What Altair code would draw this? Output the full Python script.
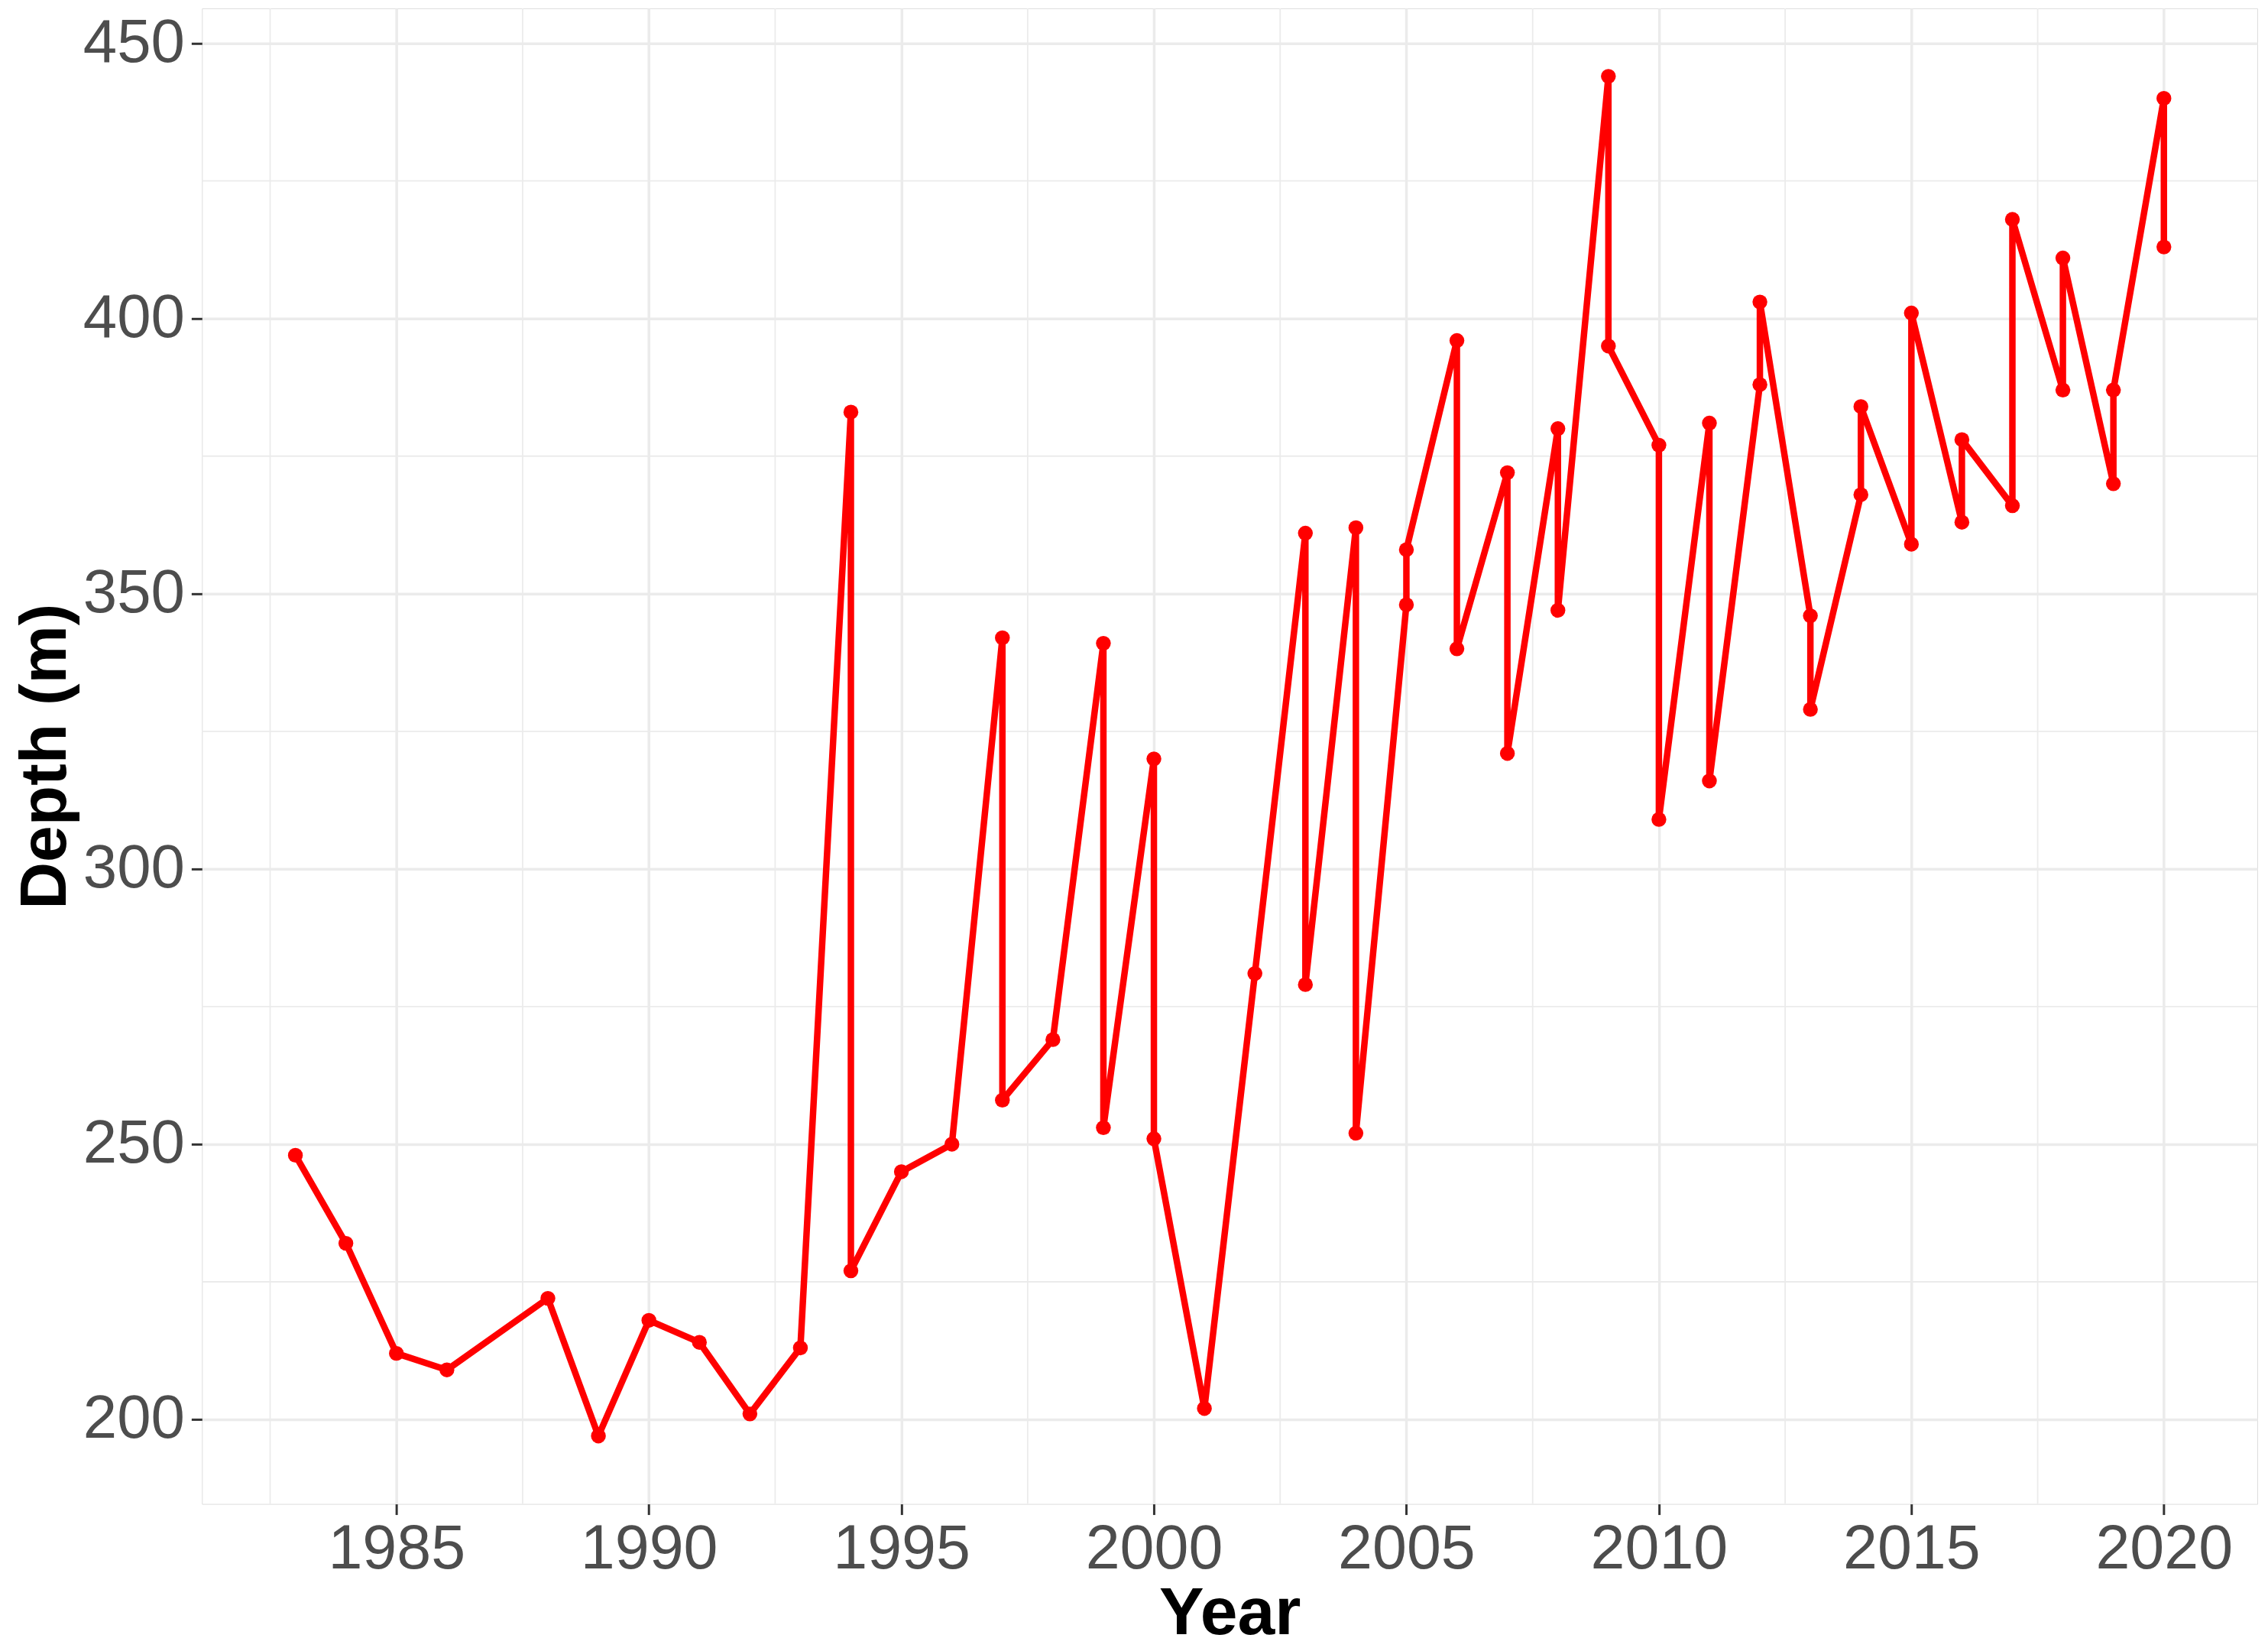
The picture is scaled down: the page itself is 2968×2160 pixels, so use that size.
import altair as alt
import pandas as pd

# Data, in the order the line visits the points
years = [1983, 1984, 1985, 1986, 1988, 1989, 1990, 1991, 1992, 1993,
         1994, 1994, 1995, 1996, 1997, 1997, 1998, 1999, 1999, 2000,
         2000, 2001, 2002, 2003, 2003, 2004, 2004, 2005, 2005, 2006,
         2006, 2007, 2007, 2008, 2008, 2009, 2009, 2010, 2010, 2011,
         2011, 2012, 2012, 2013, 2013, 2014, 2014, 2015, 2015, 2016,
         2016, 2017, 2017, 2018, 2018, 2019, 2019, 2020, 2020]
depths = [248, 232, 212, 209, 222, 197, 218, 214, 201, 213,
          383, 227, 245, 250, 342, 258, 269, 341, 253, 320,
          251, 202, 281, 361, 279, 362, 252, 348, 358, 396,
          340, 372, 321, 380, 347, 444, 395, 377, 309, 381,
          316, 388, 403, 346, 329, 368, 384, 359, 401, 363,
          378, 366, 418, 387, 411, 370, 387, 440, 413]

x_major = [1985, 1990, 1995, 2000, 2005, 2010, 2015, 2020]
x_minor = [1982.5, 1987.5, 1992.5, 1997.5, 2002.5, 2007.5, 2012.5, 2017.5]
y_major = [200, 250, 300, 350, 400, 450]
y_minor = [225, 275, 325, 375, 425]

df = pd.DataFrame({"Year": years, "Depth": depths, "idx": list(range(len(years)))})
df_xminor = pd.DataFrame({"Year": x_minor})
df_yminor = pd.DataFrame({"Depth": y_minor})

FONT = "Liberation Sans"
x_scale = alt.Scale(domain=[1981.15, 2021.85], nice=False, zero=False)
y_scale = alt.Scale(domain=[184.65, 456.35], nice=False, zero=False)

x_axis = alt.Axis(values=x_major, format="d", title="Year", grid=True,
                  gridColor="#EBEBEB", gridWidth=3.5, domain=False,
                  tickColor="#333333", tickWidth=3, tickSize=14,
                  labelFont=FONT, labelFontSize=81, labelColor="#4D4D4D",
                  labelPadding=6, labelFlush=False, labelLimit=0,
                  titleFont=FONT, titleFontSize=88, titleFontWeight="bold",
                  titleColor="#000000", titlePadding=0)
y_axis = alt.Axis(values=y_major, format="d", title="Depth (m)", grid=True,
                  gridColor="#EBEBEB", gridWidth=3.5, domain=False,
                  tickColor="#333333", tickWidth=3, tickSize=14,
                  labelFont=FONT, labelFontSize=80, labelColor="#4D4D4D",
                  labelPadding=9, labelFlush=False, labelLimit=0,
                  titleFont=FONT, titleFontSize=86, titleFontWeight="bold",
                  titleColor="#000000", titlePadding=5)

X = alt.X("Year:Q", scale=x_scale, axis=x_axis)
Y = alt.Y("Depth:Q", scale=y_scale, axis=y_axis)

minor_x = alt.Chart(df_xminor).mark_rule(color="#EBEBEB", strokeWidth=1.8).encode(x=X)
minor_y = alt.Chart(df_yminor).mark_rule(color="#EBEBEB", strokeWidth=1.8).encode(y=Y)

line = alt.Chart(df).mark_line(color="#FF0000", strokeWidth=8.5, strokeJoin="round",
                               strokeCap="round").encode(x=X, y=Y, order="idx:Q")
points = alt.Chart(df).mark_circle(color="#FF0000", opacity=1, size=380).encode(x=X, y=Y)

chart = alt.layer(minor_x, minor_y, line, points).properties(
    width=2697, height=1962,
    padding={"left": 257, "top": 0, "right": 6, "bottom": 190},
    autosize=alt.AutoSizeParams(type="none"),
).configure_view(stroke="#333333", strokeWidth=3.5).configure(background="white")

chart.save("out.html", embed_options={"renderer": "svg", "actions": False})
